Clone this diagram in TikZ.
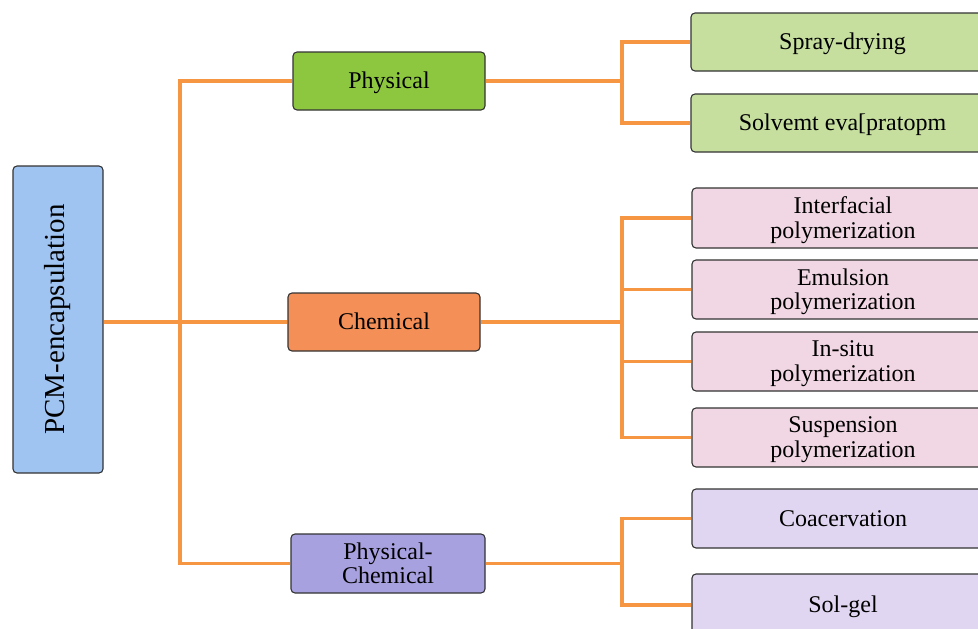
\documentclass[tikz,border=0pt]{standalone}
\usepackage{fontspec}
\setmainfont{Liberation Serif}
\begin{document}
\begin{tikzpicture}[x=1pt,y=-1pt,
  box/.style={draw=black!80,line width=1.1pt,rounded corners=4pt,inner sep=0pt,align=center,
    text depth=0.08em,font=\fontsize{24}{24.5}\selectfont},
  conn/.style={draw={rgb,255:red,247;green,150;blue,66},line width=3.2pt}]
\definecolor{cblue}{RGB}{160,196,241}
\definecolor{cgreen}{RGB}{141,198,63}
\definecolor{corange}{RGB}{245,143,88}
\definecolor{cpurple}{RGB}{168,161,224}
\definecolor{clgreen}{RGB}{198,223,159}
\definecolor{cpink}{RGB}{241,215,227}
\definecolor{clav}{RGB}{225,214,241}
\useasboundingbox (0,0) rectangle (978,629);
\clip (0,0) rectangle (978,629);
% boxes
\node[box,fill=cblue,minimum width=90pt,minimum height=307pt,text depth=0pt,font=\fontsize{29}{30}\selectfont] (pcm) at (58,319.5) {\rotatebox{90}{PCM-encapsulation}};
\node[box,fill=cgreen,minimum width=192pt,minimum height=58pt] (phy) at (389,81) {Physical};
\node[box,fill=corange,minimum width=192pt,minimum height=58pt] (chem) at (384,322) {Chemical};
\node[box,fill=cpurple,minimum width=194pt,minimum height=59pt] (pc) at (388,563.5) {Physical-\\Chemical};
\node[box,fill=clgreen,minimum width=303pt,minimum height=58pt] (spray) at (842.5,42) {Spray-drying};
\node[box,fill=clgreen,minimum width=303pt,minimum height=58pt] (solv) at (842.5,123) {Solvemt eva[pratopm};
\node[box,fill=cpink,minimum width=302pt,minimum height=60pt] (inter) at (843,218) {Interfacial\\polymerization};
\node[box,fill=cpink,minimum width=302pt,minimum height=59pt] (emul) at (843,289.5) {Emulsion\\polymerization};
\node[box,fill=cpink,minimum width=302pt,minimum height=59pt] (insitu) at (843,361.5) {In-situ\\polymerization};
\node[box,fill=cpink,minimum width=302pt,minimum height=59pt] (susp) at (843,437.5) {Suspension\\polymerization};
\node[box,fill=clav,minimum width=302pt,minimum height=59pt] (coac) at (843,518.5) {Coacervation};
\node[box,fill=clav,minimum width=302pt,minimum height=62pt] (solgel) at (843,605) {Sol-gel};
% trunk and junction x positions
\coordinate (tx) at (180,0);
\coordinate (jx) at (622,0);
% connectors
\draw[conn] (chem.west -| pcm.east) -- (chem.west);
\draw[conn] (phy.west) -- (phy.west -| tx) -- (pc.west -| tx) -- (pc.west);
\draw[conn] (phy.east) -- (phy.east -| jx);
\draw[conn] (spray.west) -- (spray.west -| jx) -- (solv.west -| jx) -- (solv.west);
\draw[conn] (chem.east) -- (chem.east -| jx);
\draw[conn] (inter.west) -- (inter.west -| jx) -- (susp.west -| jx) -- (susp.west);
\draw[conn] (emul.west) -- (emul.west -| jx);
\draw[conn] (insitu.west) -- (insitu.west -| jx);
\draw[conn] (pc.east) -- (pc.east -| jx);
\draw[conn] (coac.west) -- (coac.west -| jx) -- (solgel.west -| jx) -- (solgel.west);
\end{tikzpicture}
\end{document}
